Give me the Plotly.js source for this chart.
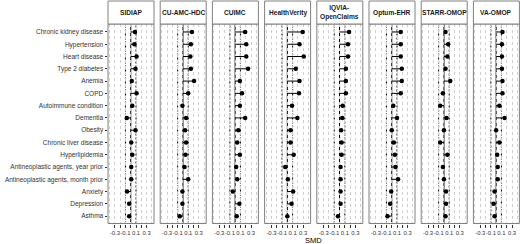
<!DOCTYPE html>
<html>
<head>
<meta charset="utf-8">
<script src="https://cdn.plot.ly/plotly-3.0.1.min.js"></script>
<style>html,body{margin:0;padding:0;background:#fff;}#chart{width:520px;height:244px;}</style>
</head>
<body>
<div id="chart"></div>
<script>
const categories = ["Chronic kidney disease","Hypertension","Heart disease","Type 2 diabetes","Anemia","COPD","Autoimmune condition","Dementia","Obesity","Chronic liver disease","Hyperlipidemia","Antineoplastic agents, year prior","Antineoplastic agents, month prior","Anxiety","Depression","Asthma"];
const sites = ["SIDIAP","CU-AMC-HDC","CUIMC","HealthVerity","IQVIA-<br>OpenClaims","Optum-EHR","STARR-OMOP","VA-OMOP"];
const smdSIDIAP       = [0.08,0.07,0.11,0.09,0.02,0.11,0.03,-0.075,0.09,0.01,0.03,0.01,0.01,-0.07,-0.03,-0.03];
const smdCUAMCHDC     = [0.17,0.15,0.14,0.15,0.21,0.10,-0.01,0.06,0.04,0.06,0.05,0.03,0.10,-0.01,-0.01,-0.06];
const smdCUIMC        = [0.19,0.21,0.21,0.245,0.09,0.13,0.09,0.19,0.06,0.04,0.09,0.02,0.04,-0.045,0.08,0.03];
const smdHealthVerity = [0.29,0.23,0.31,0.16,0.23,0.22,0.09,0.19,0.06,0.06,0.12,-0.04,0.01,0.11,0.08,0.0];
const smdIQVIA        = [0.18,0.16,0.16,0.12,0.12,0.12,0.06,0.05,0.03,0.04,0.04,0.02,0.02,0.02,0.02,-0.03];
const smdOptumEHR     = [0.17,0.17,0.17,0.19,0.19,0.17,0.03,0.10,0.0,0.04,0.06,0.07,0.12,-0.01,-0.03,-0.08];
const smdSTARR        = [0.03,0.08,0.065,0.03,0.12,-0.02,-0.07,0.05,0.0,-0.07,0.065,-0.02,0.0,0.04,0.04,0.03];
const smdVAOMOP       = [0.12,0.11,0.11,0.11,0.12,0.12,0.06,0.16,0.0,0.06,0.02,0.03,0.03,-0.03,-0.05,-0.03];
const siteValues = [smdSIDIAP,smdCUAMCHDC,smdCUIMC,smdHealthVerity,smdIQVIA,smdOptumEHR,smdSTARR,smdVAOMOP];
const majorTicks = [-0.3,-0.2,-0.1,0,0.1,0.2,0.3];
const majorText = ["-0.3","","-0.1","","0.1","","0.3"];
const refLines = [-0.1,0,0.1];

const W = 520, H = 244;
const panelStart = 108, panelStep = 52.2, panelW = 46;
const yBot = (H-223.5)/H, yTop = (H-24)/H, stripTop = (H-1)/H;

const traces = [], shapes = [], annotations = [];
const layout = {
  width: W, height: H,
  margin: {l:0,r:0,t:0,b:0},
  paper_bgcolor: "#fff", plot_bgcolor: "#fff",
  showlegend: false,
  font: {family: "Liberation Sans, Arial, sans-serif", color: "#333"},
  yaxis: {
    type: "category", categoryorder: "array", categoryarray: categories,
    range: [15.6,-0.65], domain: [yBot,yTop], anchor: "x",
    ticks: "outside", ticklen: 2.5, tickwidth: 1, tickcolor: "#333",
    tickfont: {size: 6.5, color: "#333"},
    showgrid: false, zeroline: false, showline: false
  }
};

siteValues.forEach((vals, i) => {
  const xa = i === 0 ? "x" : "x" + (i+1);
  const axKey = i === 0 ? "xaxis" : "xaxis" + (i+1);
  const x0 = (panelStart + panelStep*i)/W, x1 = (panelStart + panelStep*i + panelW)/W;
  layout[axKey] = {
    domain: [x0,x1], range: [-0.43,0.44], anchor: "y",
    tickmode: "array", tickvals: majorTicks, ticktext: majorText,
    ticks: "outside", ticklen: 3, tickwidth: 1, tickcolor: "#333",
    tickfont: {size: 5.9, color: "#333"}, tickangle: 0,
    showgrid: true, gridcolor: "#cfcfcf", gridwidth: 1, griddash: "dot",
    minor: {tickmode: "array", tickvals: [-0.4,0.4], ticks: "", showgrid: true, gridcolor: "#cfcfcf", gridwidth: 1, griddash: "dot"},
    zeroline: false, showline: false, fixedrange: true
  };
  traces.push({
    type: "scatter", mode: "markers", xaxis: xa, yaxis: "y",
    x: vals, y: categories,
    marker: {color: "#000", size: 4.5},
    error_x: {type: "data", symmetric: false,
      array: vals.map(v => v < 0 ? -v : 0),
      arrayminus: vals.map(v => v > 0 ? v : 0),
      color: "#000", thickness: 1, width: 0},
    hoverinfo: "skip"
  });
  refLines.forEach(r => {
    shapes.push({type: "line", xref: xa, yref: "y domain", x0: r, x1: r, y0: 0, y1: 1,
      line: {color: "#000", width: 1, dash: r === 0 ? "solid" : "2px,2px"}, layer: "below"});
  });
  shapes.push({type: "rect", xref: xa + " domain", yref: "y domain", x0: 0, x1: 1, y0: 0, y1: 1,
    line: {color: "#808080", width: 1}, fillcolor: "rgba(0,0,0,0)"});
  shapes.push({type: "rect", xref: xa + " domain", yref: "paper", x0: 0, x1: 1, y0: yTop, y1: stripTop,
    line: {color: "#808080", width: 1}, fillcolor: "#fff"});
  annotations.push({xref: xa + " domain", yref: "paper", x: 0.5, y: (yTop+stripTop)/2,
    text: "<b>" + sites[i] + "</b>", showarrow: false, xanchor: "center", yanchor: "middle",
    font: {size: 6.6, color: "#1a1a1a"}});
});

annotations.push({xref: "paper", yref: "paper", x: 313.5/W, y: 4/H, text: "SMD", showarrow: false,
  xanchor: "center", yanchor: "middle", font: {size: 7.5, color: "#000"}});

layout.shapes = shapes;
layout.annotations = annotations;

Plotly.newPlot("chart", traces, layout, {staticPlot: true, displayModeBar: false});
</script>
</body>
</html>
